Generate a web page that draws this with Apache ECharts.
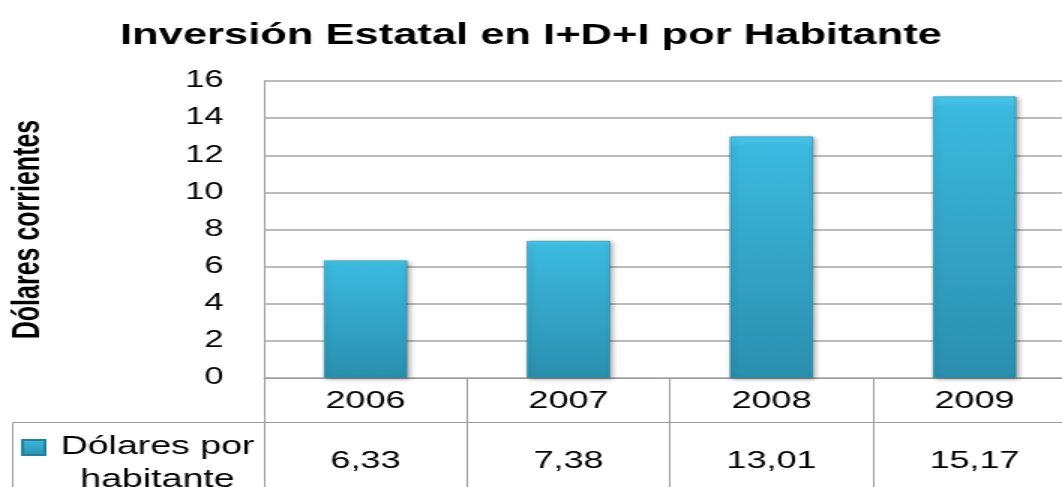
<!DOCTYPE html>
<html lang="es">
<head>
    <meta charset="utf-8">
    <title>Inversión Estatal en I+D+I por Habitante</title>
    <script src="https://cdn.jsdelivr.net/npm/echarts@6/dist/echarts.min.js"></script>
    <style type="text/css">
        html, body { margin: 0; padding: 0; overflow: hidden; background: #fff; }
        /* the source picture is stretched sideways, so the chart is drawn narrow and widened */
        #main {
            width: 708px;
            height: 487px;
            transform: scaleX(1.5);
            transform-origin: 0 0;
        }
    </style>
</head>
<body>
    <div id="main"></div>
    <script type="text/javascript">
        var years = ['2006', '2007', '2008', '2009'];
        var dolares = [6.33, 7.38, 13.01, 15.17];
        var yTicks = { min: 0, max: 16, interval: 2 };
        var serieName = 'Dólares por habitante';

        // table row under the axis: same values, written with a comma
        var tablaValores = dolares.map(function (v) { return v.toFixed(2).replace('.', ','); });

        var font = 'Liberation Sans';
        var gris = '#9a9a9a';

        var barColor = new echarts.graphic.LinearGradient(0, 0, 0, 1, [
            { offset: 0, color: '#4ccbee' },
            { offset: 0.04, color: '#3bb9de' },
            { offset: 1, color: '#2b8fae' }
        ]);

        var chart = echarts.init(document.getElementById('main'));
        var option = {
            animation: false,
            title: {
                text: 'Inversión Estatal en I+D+I por Habitante',
                left: 'center',
                top: 16,
                textStyle: { fontFamily: font, fontWeight: 'bold', fontSize: 29, color: '#000' }
            },
            legend: {
                data: [serieName],
                left: 14,
                top: 398,
                padding: 0,
                itemWidth: 15,
                itemHeight: 15,
                icon: 'rect',
                formatter: function () { return '{a|Dólares por}\n{a|habitante}'; },
                textStyle: {
                    fontFamily: font,
                    fontSize: 25,
                    color: '#000',
                    lineHeight: 33,
                    padding: [33, 0, 0, 4],
                    rich: { a: { width: 132, align: 'center', fontFamily: font, fontSize: 25, lineHeight: 33 } }
                }
            },
            grid: { left: 176, right: -9.33, top: 81, bottom: 109, containLabel: false, outerBoundsMode: 'none' },
            xAxis: [
                {
                    type: 'category',
                    data: years,
                    position: 'bottom',
                    axisLine: { show: true, lineStyle: { color: gris, width: 1 } },
                    axisTick: { show: true, length: 44, lineStyle: { color: gris } },
                    axisLabel: { fontFamily: font, fontSize: 24, color: '#000', margin: 11 }
                },
                {
                    type: 'category',
                    data: tablaValores,
                    position: 'bottom',
                    offset: 44,
                    axisLine: { show: true, lineStyle: { color: gris, width: 1 } },
                    axisTick: { show: true, length: 80, lineStyle: { color: gris } },
                    axisLabel: { fontFamily: font, fontSize: 24, color: '#000', margin: 27 }
                }
            ],
            yAxis: {
                type: 'value',
                min: yTicks.min,
                max: yTicks.max,
                interval: yTicks.interval,
                name: 'Dólares corrientes',
                nameLocation: 'middle',
                nameGap: 144,
                nameRotate: 90,
                nameTextStyle: { fontFamily: font, fontWeight: 'bold', fontSize: 25, color: '#000' },
                axisLine: { show: true, lineStyle: { color: gris } },
                axisTick: { show: false },
                axisLabel: { fontFamily: font, fontSize: 23, color: '#000', margin: 27 },
                splitLine: { lineStyle: { color: '#a6a6a6', width: 1.5 } }
            },
            graphic: [
                {
                    type: 'polyline',
                    shape: { points: [[8.5, 520], [8.5, 422.5], [176, 422.5]] },
                    style: { stroke: gris, fill: null, lineWidth: 1 },
                    silent: true
                }
            ],
            series: [
                {
                    name: serieName,
                    type: 'bar',
                    data: dolares,
                    barWidth: '41%',
                    itemStyle: {
                        color: barColor,
                        borderColor: '#25809c',
                        borderWidth: 0.5,
                        shadowColor: 'rgba(0,0,0,0.35)',
                        shadowBlur: 4,
                        shadowOffsetX: 1.5,
                        shadowOffsetY: 1
                    }
                }
            ]
        };
        chart.setOption(option);
    </script>
</body>
</html>
